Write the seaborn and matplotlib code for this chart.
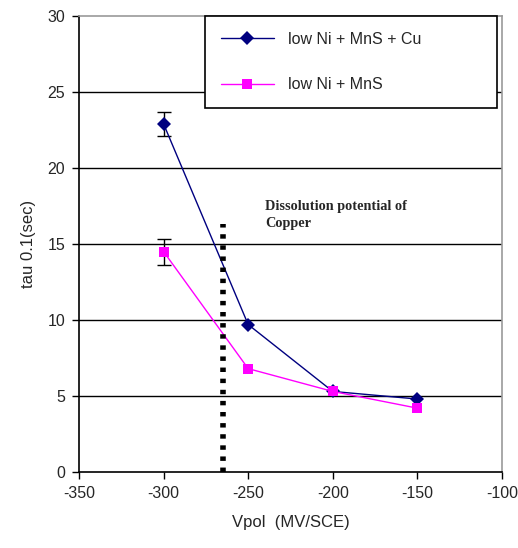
import matplotlib
matplotlib.use("Agg")
import matplotlib.pyplot as plt
import seaborn as sns
import pandas as pd

vpol = [-300, -250, -200, -150]
tau_cu = [22.9, 9.7, 5.3, 4.8]
tau_nocu = [14.5, 6.8, 5.3, 4.2]
err_cu = [0.8, 0, 0, 0]
err_nocu = [0.85, 0, 0, 0]
labels = ["low Ni + MnS + Cu", "low Ni + MnS"]
colors = ["#000080", "#FF00FF"]
diss_x = -265
diss_top = 16.3

sns.set_theme(style="white")
plt.rcParams['font.family'] = ['Liberation Sans', 'DejaVu Sans']
plt.rcParams['axes.unicode_minus'] = False

df = pd.DataFrame({
    "Vpol": vpol * 2,
    "tau": tau_cu + tau_nocu,
    "series": [labels[0]] * 4 + [labels[1]] * 4,
})

fig = plt.figure(figsize=(5.18, 5.48), dpi=100)
ax = fig.add_axes([0.1525, 0.1387, 0.8165, 0.8321])

for y in [5, 10, 15, 20, 25]:
    ax.axhline(y, color="black", lw=1.0, zorder=1)

sns.lineplot(data=df, x="Vpol", y="tau", hue="series", style="series",
             markers={labels[0]: "D", labels[1]: "s"}, dashes=False,
             palette=dict(zip(labels, colors)), ax=ax, lw=1.0,
             markersize=7, markeredgewidth=0, zorder=3)

ax.errorbar([vpol[0]], [tau_cu[0]], yerr=[err_cu[0]], fmt="none",
            ecolor="black", elinewidth=1, capsize=5, zorder=2)
ax.errorbar([vpol[0]], [tau_nocu[0]], yerr=[err_nocu[0]], fmt="none",
            ecolor="black", elinewidth=1, capsize=5, zorder=2)

ax.plot([diss_x, diss_x], [0, diss_top], color="black", lw=4,
        linestyle=(0, (0.8, 1.2)), zorder=4)
ax.text(-240, 17.9, "Dissolution potential of\nCopper", family="Liberation Serif",
        fontweight="bold", fontsize=10.3, va="top", ha="left", linespacing=1.45)

ax.set_xlim(-350, -100)
ax.set_ylim(0, 30)
ax.set_xticks([-350, -300, -250, -200, -150, -100])
ax.set_yticks([0, 5, 10, 15, 20, 25, 30])
ax.tick_params(axis="both", direction="out", length=5, width=1, color="black",
               labelsize=11.5, bottom=True, left=True, pad=5)
ax.set_xlabel("Vpol  (MV/SCE)", fontsize=12, labelpad=10)
ax.set_ylabel("tau 0.1(sec)", fontsize=12, labelpad=8)

for s in ["left", "bottom"]:
    ax.spines[s].set_color("black")
    ax.spines[s].set_linewidth(1.2)
for s in ["top", "right"]:
    ax.spines[s].set_color("#999999")
    ax.spines[s].set_linewidth(1.2)

leg = ax.legend(loc="upper center", bbox_to_anchor=(0.298, 0.5, 0.691, 0.5),
                mode="expand", fancybox=False, edgecolor="black",
                fontsize=11.5, handlelength=3.3, labelspacing=1.9,
                borderpad=1.0, handletextpad=0.9, framealpha=1,
                borderaxespad=0)
leg.get_frame().set_linewidth(1.2)
leg.set_zorder(5)

fig.savefig("out.png", dpi=100, facecolor="white")
